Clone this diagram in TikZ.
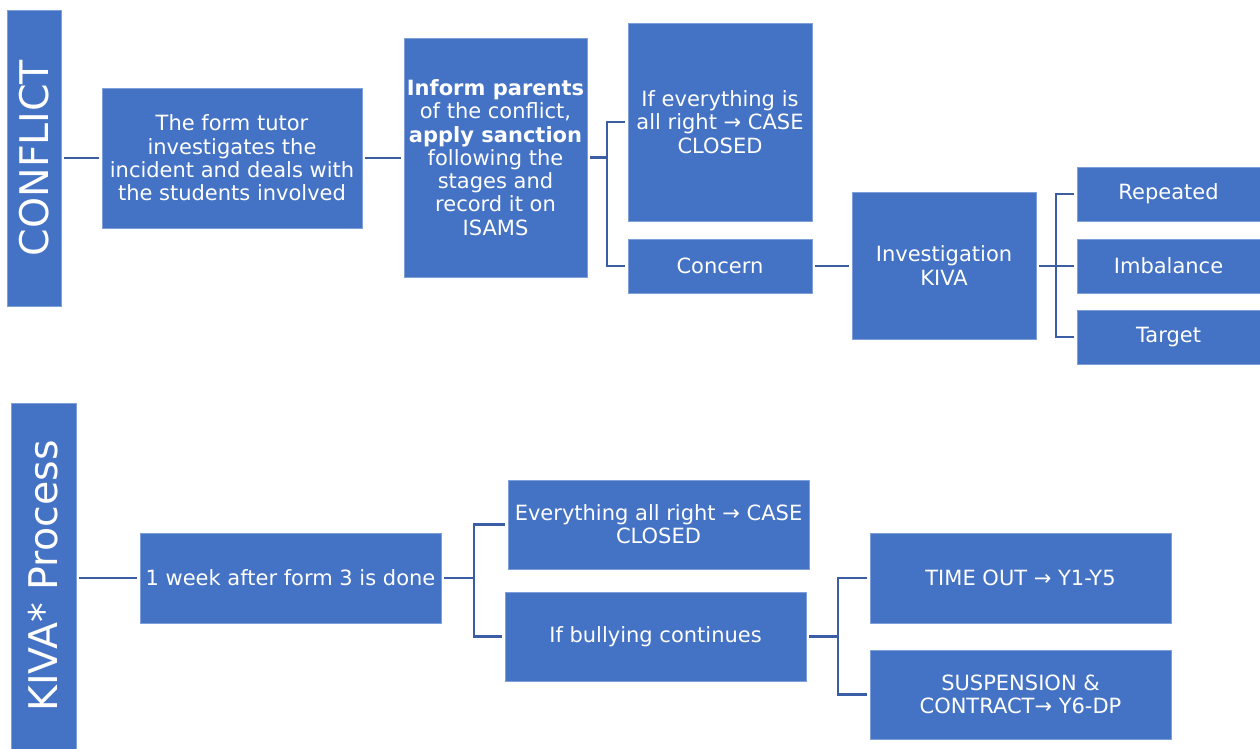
\documentclass[tikz,border=0pt]{standalone}
\usepackage{fontspec}
\setmainfont{DejaVu Sans}
\definecolor{boxc}{HTML}{4472C4}
\definecolor{bordc}{HTML}{7F9FD8}
\definecolor{linec}{HTML}{3B5DA5}
\begin{document}
\begin{tikzpicture}[x=1pt,y=-1pt,
  box/.style={draw=bordc, line width=0.8pt, fill=boxc, text=white, align=center,
    inner sep=0pt, outer sep=3pt, font=\fontsize{21}{23.3}\selectfont},
  sidebox/.style={box, rotate=90, font=\fontsize{39.5}{42}\selectfont},
  conn/.style={draw=linec, line width=2.8pt}]
\useasboundingbox (0,0) rectangle (1260,749);
% top part
\node[sidebox, minimum width=296, minimum height=54] (conflict) at (34,158) {CONFLICT};
\node[box, minimum width=260, minimum height=140] (tutor) at (232,158)
  {The form tutor\\investigates the\\incident and deals with\\the students involved};
\node[box, minimum width=183, minimum height=239] (inform) at (495.5,157.5)
  {\textbf{Inform parents}\\of the conflict,\\\textbf{apply sanction}\\following the\\stages and\\record it on\\ISAMS};
\node[box, minimum width=184, minimum height=198] (ifok) at (720,122)
  {If everything is\\all right → CASE\\CLOSED};
\node[box, minimum width=184, minimum height=54] (concern) at (720,266) {Concern};
\node[box, minimum width=184, minimum height=147] (inv) at (944,265.5) {Investigation\\KIVA};
\node[box, minimum width=183, minimum height=54] (rep) at (1168.5,194) {Repeated};
\node[box, minimum width=183, minimum height=54] (imb) at (1168.5,266) {Imbalance};
\node[box, minimum width=183, minimum height=54] (tgt) at (1168.5,337) {Target};
\draw[conn] (conflict.south) -- (conflict.south -| tutor.west);
\draw[conn] (tutor.east) -- (tutor.east -| inform.west);
\draw[conn] (inform.east) -- ++(17,0) |- (ifok.west);
\draw[conn] (inform.east) -- ++(17,0) |- (concern.west);
\draw[conn] (concern.east) -- (concern.east -| inv.west);
\draw[conn] (inv.east |- imb.west) -- ++(17,0) |- (rep.west);
\draw[conn] (inv.east |- imb.west) -- (imb.west);
\draw[conn] (inv.east |- imb.west) -- ++(17,0) |- (tgt.west);
% bottom part
\node[sidebox, minimum width=346, minimum height=65] (kiva) at (43.5,576) {KIVA* Process};
\node[box, minimum width=301, minimum height=90] (week) at (290.5,578) {1 week after form 3 is done};
\node[box, minimum width=301, minimum height=89] (allok) at (658.5,524.5) {Everything all right → CASE\\CLOSED};
\node[box, minimum width=301, minimum height=89] (bully) at (655.5,636.5) {If bullying continues};
\node[box, minimum width=301, minimum height=90] (timeout) at (1020.5,578) {TIME OUT → Y1-Y5};
\node[box, minimum width=301, minimum height=89] (susp) at (1020.5,694.5) {SUSPENSION \&\\CONTRACT→ Y6-DP};
\draw[conn] (kiva.south |- week.west) -- (week.west);
\draw[conn] (week.east) -- ++(30,0) |- (allok.west);
\draw[conn] (week.east) -- ++(30,0) |- (bully.west);
\draw[conn] (bully.east) -- ++(29,0) |- (timeout.west);
\draw[conn] (bully.east) -- ++(29,0) |- (susp.west);
\end{tikzpicture}
\end{document}
